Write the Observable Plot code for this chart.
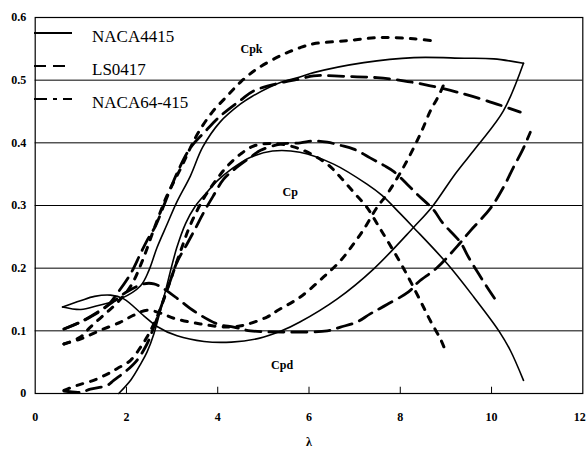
<!DOCTYPE html>
<html>
<head>
<meta charset="utf-8">
<script src="https://cdn.jsdelivr.net/npm/d3@7"></script>
<script src="https://cdn.jsdelivr.net/npm/@observablehq/plot@0.6"></script>
<style>
  html, body { margin: 0; padding: 0; background: #fff; }
  #wrap { position: relative; width: 586px; height: 450px; }
  #legend { position: absolute; left: 0; top: 0; }
</style>
</head>
<body>
<div id="wrap"></div>
<script>
// ---- data (λ, coefficient) ----
const xTicks = [0, 2, 4, 6, 8, 10, 12];
const yTicks = [0, 0.1, 0.2, 0.3, 0.4, 0.5, 0.6];
const airfoils = ["NACA4415", "LS0417", "NACA64-415"];

const naca4415Cpk = [[0.6,0.138],[1.0,0.134],[1.36,0.140],[1.87,0.151],[2.31,0.172],[2.49,0.196],[2.67,0.233],[2.89,0.27],[3.1,0.305],[3.4,0.347],[3.67,0.393],[4.05,0.433],[4.5,0.462],[4.75,0.474],[5.4,0.497],[5.8,0.505],[6.1,0.512],[7.2,0.528],[8.3,0.536],[9.4,0.535],[10.05,0.534],[10.7,0.527]];
const naca4415Cp = [[1.83,0.0],[2.1,0.022],[2.31,0.047],[2.45,0.066],[2.6,0.095],[2.82,0.154],[3.1,0.232],[3.3,0.272],[3.5,0.298],[3.75,0.32],[4.0,0.34],[4.3,0.358],[4.72,0.377],[5.2,0.387],[5.8,0.385],[6.54,0.366],[7.27,0.334],[7.6,0.316],[8.0,0.287],[8.29,0.265],[9.03,0.207],[9.61,0.154],[10.16,0.1],[10.41,0.069],[10.7,0.021]];
const naca4415Cpd = [[0.6,0.138],[0.99,0.148],[1.3,0.155],[1.65,0.157],[1.94,0.151],[2.38,0.124],[2.67,0.107],[3.11,0.092],[3.7,0.083],[4.3,0.082],[4.9,0.088],[5.4,0.1],[5.8,0.114],[6.62,0.151],[7.42,0.199],[8.29,0.265],[8.7,0.298],[9.2,0.35],[9.7,0.396],[10.26,0.451],[10.7,0.527]];

const ls0417Cpk = [[0.63,0.103],[0.99,0.114],[1.21,0.122],[1.58,0.14],[1.8,0.16],[2.09,0.191],[2.3,0.222],[2.45,0.244],[2.64,0.268],[2.9,0.315],[3.11,0.352],[3.4,0.392],[3.75,0.42],[4.06,0.443],[4.5,0.468],[4.79,0.483],[5.45,0.497],[5.81,0.502],[6.1,0.507],[6.83,0.506],[7.49,0.504],[8.07,0.499],[8.66,0.491],[9.24,0.481],[9.9,0.467],[10.63,0.449]];
const ls0417Cp = [[0.63,0.004],[0.99,0.002],[1.21,0.007],[1.58,0.013],[1.72,0.021],[2.01,0.037],[2.23,0.053],[2.45,0.079],[2.6,0.106],[2.78,0.143],[2.96,0.18],[3.11,0.21],[3.33,0.239],[3.5,0.262],[3.7,0.29],[3.9,0.315],[4.13,0.342],[4.42,0.361],[4.72,0.377],[4.94,0.388],[5.37,0.398],[5.81,0.4],[6.1,0.403],[6.4,0.401],[6.69,0.396],[6.98,0.39],[7.34,0.376],[7.64,0.364],[7.86,0.354],[8.15,0.334],[8.37,0.318],[8.73,0.293],[8.92,0.273],[9.32,0.241],[9.5,0.217],[9.9,0.17],[10.16,0.142]];
const ls0417Cpd = [[0.63,0.103],[0.99,0.114],[1.58,0.14],[2.0,0.162],[2.38,0.175],[2.6,0.175],[2.82,0.167],[3.18,0.148],[3.47,0.132],[3.99,0.111],[4.35,0.106],[4.72,0.1],[5.45,0.098],[6.4,0.1],[6.69,0.106],[7.05,0.114],[7.34,0.127],[7.71,0.142],[8.18,0.162],[8.4,0.178],[8.81,0.201],[9.32,0.241],[9.54,0.26],[9.97,0.295],[10.26,0.329],[10.48,0.361],[10.67,0.387],[10.85,0.417]];

const naca64Cpk = [[0.63,0.079],[0.99,0.09],[1.21,0.106],[1.5,0.125],[1.8,0.145],[2.1,0.172],[2.35,0.212],[2.6,0.262],[2.74,0.289],[2.89,0.316],[3.22,0.364],[3.4,0.392],[3.58,0.417],[3.88,0.449],[4.21,0.475],[4.5,0.497],[4.86,0.518],[5.4,0.54],[5.81,0.552],[6.1,0.558],[6.83,0.563],[7.56,0.568],[8.29,0.566],[8.81,0.562]];
const naca64Cp = [[0.63,0.005],[0.92,0.013],[1.28,0.021],[1.58,0.031],[1.8,0.04],[2.09,0.053],[2.31,0.074],[2.45,0.09],[2.67,0.122],[2.96,0.18],[3.18,0.226],[3.4,0.269],[3.69,0.311],[3.99,0.343],[4.2,0.362],[4.5,0.382],[4.79,0.395],[5.23,0.399],[5.81,0.39],[6.4,0.366],[6.69,0.345],[6.98,0.321],[7.27,0.297],[7.5,0.27],[7.75,0.24],[8.07,0.2],[8.44,0.148],[8.66,0.116],[8.88,0.087],[9.02,0.063]];
const naca64Cpd = [[0.63,0.079],[0.99,0.087],[1.4,0.1],[1.87,0.114],[2.16,0.125],[2.45,0.133],[2.8,0.127],[3.04,0.12],[3.62,0.111],[4.2,0.106],[4.57,0.109],[5.08,0.122],[5.3,0.132],[5.81,0.154],[6.32,0.186],[6.69,0.212],[6.96,0.237],[7.2,0.262],[7.49,0.297],[7.71,0.318],[8.07,0.361],[8.44,0.414],[8.66,0.451],[8.84,0.475],[8.99,0.499]];

const annotations = [
  {text: "Cpk", x: 4.74, y: 0.55},
  {text: "Cp",  x: 5.59, y: 0.322},
  {text: "Cpd", x: 5.41, y: 0.045}
];

// ---- build series table ----
const curves = [
  {airfoil: "NACA4415", pts: naca4415Cpk}, {airfoil: "NACA4415", pts: naca4415Cp}, {airfoil: "NACA4415", pts: naca4415Cpd},
  {airfoil: "LS0417", pts: ls0417Cpk}, {airfoil: "LS0417", pts: ls0417Cp}, {airfoil: "LS0417", pts: ls0417Cpd},
  {airfoil: "NACA64-415", pts: naca64Cpk}, {airfoil: "NACA64-415", pts: naca64Cp}, {airfoil: "NACA64-415", pts: naca64Cpd}
];
const styles = {
  "NACA4415":   {strokeWidth: 1.6, dash: null},
  "LS0417":     {strokeWidth: 2.8, dash: "15,8"},
  "NACA64-415": {strokeWidth: 3.0, dash: "6,8"}
};
const lineMarks = curves.map(c => Plot.line(c.pts.map(([x, y]) => ({x, y})), {
  x: "x", y: "y", stroke: "#000",
  strokeWidth: styles[c.airfoil].strokeWidth,
  strokeDasharray: styles[c.airfoil].dash,
  curve: "catmull-rom"
}));

const font = "Liberation Serif, DejaVu Serif, Times New Roman, serif";
const fmtX = d => String(d);
const chart = Plot.plot({
  width: 586, height: 450,
  marginLeft: 34.7, marginRight: 3.7, marginTop: 17, marginBottom: 57,
  style: {fontFamily: font, background: "#fff", color: "#000"},
  x: {domain: [0, 12]},
  y: {domain: [0, 0.6]},
  marks: [
    Plot.ruleY(yTicks.filter(d => d > 0 && d < 0.6), {stroke: "#000", strokeWidth: 1}),
    Plot.frame({stroke: "#000", strokeWidth: 1.2}),
    Plot.ruleX(xTicks.filter(d => d > 0 && d < 12), {y1: 0, y2: 0.01, stroke: "#000", strokeWidth: 1}),
    Plot.axisX(xTicks.filter(d => d < 12), {tickSize: 0, tickPadding: 19, tickFormat: fmtX,
      fontSize: 12, fontWeight: "bold", fontFamily: font, label: "λ", labelAnchor: "center", labelOffset: 52, labelArrow: "none"}),
    Plot.axisX([12], {tickSize: 0, tickPadding: 19, tickFormat: fmtX, textAnchor: "end", dx: 3,
      fontSize: 12, fontWeight: "bold", fontFamily: font, label: null}),
    Plot.axisY({ticks: yTicks, tickSize: 0, tickPadding: 9, tickFormat: d => d === 0 ? "0" : d.toFixed(1),
      fontSize: 12, fontWeight: "bold", fontFamily: font, label: null}),
    ...lineMarks,
    Plot.text(annotations, {x: "x", y: "y", text: "text", fontSize: 12, fontWeight: "bold", fontFamily: font, fill: "#000"})
  ]
});
const wrap = document.getElementById("wrap");
wrap.appendChild(chart);

// ---- legend overlay ----
const legendRows = airfoils.map((a, i) => ({name: a, dash: i === 0 ? null : (i === 1 ? "12,7" : "13,6,4,6"), y: 33 + i * 33}));
const ns = "http://www.w3.org/2000/svg";
const lg = document.createElementNS(ns, "svg");
lg.setAttribute("id", "legend");
lg.setAttribute("width", 300); lg.setAttribute("height", 120);
legendRows.forEach(r => {
  const l = document.createElementNS(ns, "line");
  l.setAttribute("x1", 34); l.setAttribute("x2", 72);
  l.setAttribute("y1", r.y); l.setAttribute("y2", r.y);
  l.setAttribute("stroke", "#000"); l.setAttribute("stroke-width", 2.2);
  if (r.dash) l.setAttribute("stroke-dasharray", r.dash);
  lg.appendChild(l);
  const t = document.createElementNS(ns, "text");
  t.setAttribute("x", 92); t.setAttribute("y", r.y + 8.5);
  t.setAttribute("font-family", font); t.setAttribute("font-size", 17);
  t.textContent = r.name;
  lg.appendChild(t);
});
wrap.appendChild(lg);
</script>
</body>
</html>
